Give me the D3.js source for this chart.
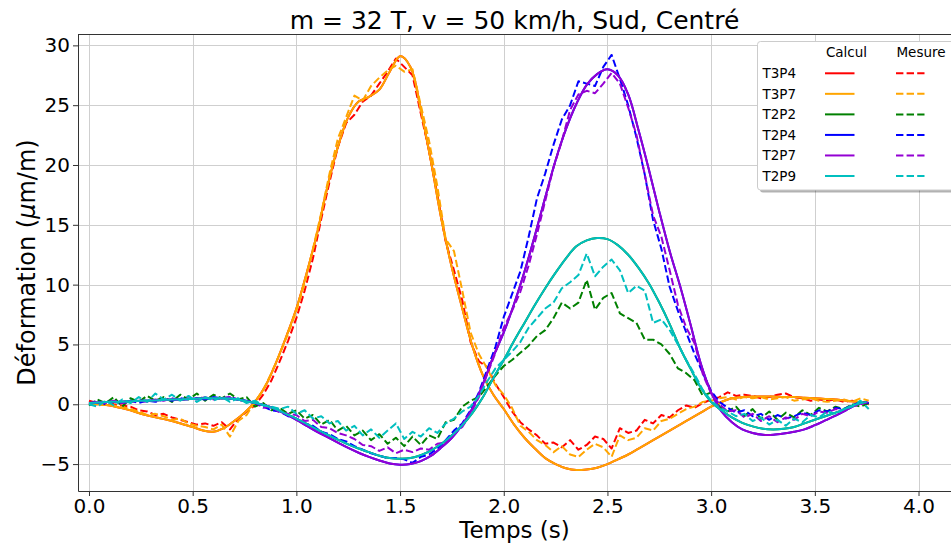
<!DOCTYPE html>
<html>
<head>
<meta charset="utf-8">
<script src="https://cdn.jsdelivr.net/npm/d3@7"></script>
<style>
  body { margin: 0; background: #fff; }
  svg { display: block; font-family: "DejaVu Sans", sans-serif; }
</style>
</head>
<body>
<div id="chart"></div>
<script>
// Jauges et couleurs (ordre de tracé = ordre de la légende)
const gauges = ["T3P4", "T3P7", "T2P2", "T2P4", "T2P7", "T2P9"];
const gaugeColors = ["#ff0000", "#ffa500", "#008000", "#0000ff", "#9400d3", "#00bfbf"];

const xTicks = [0.0, 0.5, 1.0, 1.5, 2.0, 2.5, 3.0, 3.5, 4.0];
const yTicks = [-5, 0, 5, 10, 15, 20, 25, 30];

// Temps des courbes calculées (pas 0.05 s)
const tCalc = [0.00, 0.05, 0.10, 0.15, 0.20, 0.25, 0.30, 0.35, 0.40, 0.45,
  0.50, 0.55, 0.60, 0.65, 0.70, 0.75, 0.80, 0.85, 0.90, 0.95,
  1.00, 1.05, 1.10, 1.15, 1.20, 1.25, 1.30, 1.35, 1.40, 1.45,
  1.50, 1.55, 1.60, 1.65, 1.70, 1.75, 1.80, 1.85, 1.90, 1.95,
  2.00, 2.05, 2.10, 2.15, 2.20, 2.25, 2.30, 2.35, 2.40, 2.45,
  2.50, 2.55, 2.60, 2.65, 2.70, 2.75, 2.80, 2.85, 2.90, 2.95,
  3.00, 3.05, 3.10, 3.15, 3.20, 3.25, 3.30, 3.35, 3.40, 3.45,
  3.50, 3.55, 3.60, 3.65, 3.70, 3.75];

// Temps des mesures (pas 0.04 s)
const tMes = [0.00, 0.04, 0.08, 0.12, 0.16, 0.20, 0.24, 0.28, 0.32, 0.36,
  0.40, 0.44, 0.48, 0.52, 0.56, 0.60, 0.64, 0.68, 0.72, 0.76,
  0.80, 0.84, 0.88, 0.92, 0.96, 1.00, 1.04, 1.08, 1.12, 1.16,
  1.20, 1.24, 1.28, 1.32, 1.36, 1.40, 1.44, 1.48, 1.52, 1.56,
  1.60, 1.64, 1.68, 1.72, 1.76, 1.80, 1.84, 1.88, 1.92, 1.96,
  2.00, 2.04, 2.08, 2.12, 2.16, 2.20, 2.24, 2.28, 2.32, 2.36,
  2.40, 2.44, 2.48, 2.52, 2.56, 2.60, 2.64, 2.68, 2.72, 2.76,
  2.80, 2.84, 2.88, 2.92, 2.96, 3.00, 3.04, 3.08, 3.12, 3.16,
  3.20, 3.24, 3.28, 3.32, 3.36, 3.40, 3.44, 3.48, 3.52, 3.56,
  3.60, 3.64, 3.68, 3.72, 3.76];

// Calcul
const calcT3P7 = [0.0, 0.0, -0.1, -0.3, -0.5, -0.8, -1.0, -1.2, -1.4, -1.65,
  -1.9, -2.2, -2.3, -2.0, -1.4, -0.7, 0.2, 1.5, 3.4, 5.6,
  8.0, 11.0, 14.3, 18.2, 21.5, 24.0, 25.3, 25.7, 26.3, 27.8,
  29.1, 28.2, 24.6, 20.2, 15.4, 11.4, 8.0, 4.8, 2.4, 0.8,
  -0.4, -1.7, -2.8, -3.7, -4.5, -5.0, -5.35, -5.5, -5.45, -5.3,
  -5.0, -4.6, -4.2, -3.7, -3.2, -2.7, -2.2, -1.7, -1.2, -0.7,
  -0.2, 0.2, 0.5, 0.6, 0.65, 0.65, 0.65, 0.6, 0.6, 0.55,
  0.5, 0.45, 0.4, 0.3, 0.2, 0.1];
const calcT3P4 = calcT3P7; // confondue avec T3P7

const calcT2P7 = [0.1, 0.15, 0.2, 0.2, 0.25, 0.3, 0.3, 0.35, 0.4, 0.4,
  0.45, 0.5, 0.5, 0.5, 0.45, 0.3, 0.1, -0.1, -0.4, -0.85,
  -1.3, -1.8, -2.3, -2.75, -3.2, -3.65, -4.05, -4.4, -4.7, -4.95,
  -5.05, -5.0, -4.75, -4.3, -3.6, -2.8, -1.7, -0.3, 1.7, 4.0,
  6.0, 8.4, 11.1, 14.1, 17.3, 20.4, 23.0, 25.1, 26.7, 27.6,
  28.0, 27.5, 25.9, 22.9, 19.6, 16.1, 12.8, 9.9, 6.7, 3.4,
  1.0, -0.6, -1.5, -2.1, -2.4, -2.55, -2.55, -2.45, -2.3, -2.1,
  -1.75, -1.35, -0.95, -0.5, -0.05, 0.2];
const calcT2P4 = calcT2P7; // confondue avec T2P7

const calcT2P9 = [0.1, 0.15, 0.2, 0.2, 0.25, 0.3, 0.3, 0.35, 0.4, 0.4,
  0.45, 0.5, 0.5, 0.5, 0.45, 0.3, 0.1, -0.1, -0.4, -0.8,
  -1.2, -1.65, -2.1, -2.55, -2.95, -3.35, -3.7, -4.0, -4.3, -4.5,
  -4.55, -4.5, -4.25, -3.85, -3.3, -2.6, -1.75, -0.7, 0.6, 2.2,
  3.7, 5.3, 6.8, 8.3, 9.7, 11.0, 12.2, 13.2, 13.7, 13.9,
  13.8, 13.3, 12.5, 11.4, 10.1, 8.5, 6.7, 4.7, 3.0, 1.4,
  0.2, -0.5, -1.1, -1.55, -1.85, -2.05, -2.1, -2.05, -1.9, -1.6,
  -1.3, -1.0, -0.7, -0.35, 0.0, 0.2];
const calcT2P2 = calcT2P9; // confondue avec T2P9

// Mesure
const mesT3P4 = [0.3, 0.1, 0.2, 0.0, -0.1, -0.2, -0.5, -0.6, -0.9, -0.8,
  -1.1, -1.3, -1.5, -1.7, -1.6, -1.8, -1.5, -2.1, -1.2, -0.6,
  -0.1, 0.8, 2.0, 3.6, 5.3, 7.2, 9.5, 12.2, 15.5, 18.6,
  21.5, 23.5, 24.2, 25.3, 25.8, 26.8, 27.8, 28.9, 28.2, 27.5,
  24.3, 21.2, 17.5, 13.6, 11.2, 8.7, 5.2, 3.6, 3.1, 1.7,
  0.6, -0.6, -1.5, -2.1, -2.6, -3.3, -3.2, -3.6, -3.0, -3.8,
  -3.4, -2.7, -2.9, -3.7, -2.0, -2.4, -2.2, -1.3, -1.6, -0.9,
  -1.1, -0.5, -0.1, -0.3, 0.1, 0.4, 0.6, 1.0, 0.7, 0.8,
  0.7, 0.5, 0.6, 0.8, 0.9, 0.6, 0.5, 0.3, 0.4, 0.3,
  0.4, 0.2, 0.3, 0.1, 0.0];

const mesT3P7 = [0.1, -0.1, 0.0, -0.1, -0.2, -0.4, -0.6, -0.9, -0.8, -1.0,
  -1.3, -1.2, -1.6, -1.8, -1.9, -2.1, -1.7, -2.7, -1.4, -0.9,
  0.2, 1.2, 2.6, 4.2, 5.9, 7.8, 10.1, 13.0, 16.0, 19.3,
  22.2, 24.0, 25.8, 25.4, 26.6, 27.3, 27.9, 28.3, 27.8, 28.0,
  25.0, 22.0, 18.2, 13.8, 12.8, 9.5, 6.0, 4.2, 3.0, 1.6,
  0.8, -0.3, -1.8, -2.3, -3.0, -3.4, -4.0, -3.5, -4.2, -4.4,
  -3.8, -3.3, -3.6, -4.4, -2.6, -3.0, -2.8, -2.0, -2.2, -1.4,
  -1.2, -0.8, -0.4, -0.2, 0.2, 0.3, 0.5, 0.6, 0.4, 0.6,
  0.5, 0.6, 0.4, 0.5, 0.6, 0.3, 0.4, 0.5, 0.3, 0.2,
  0.3, 0.4, 0.2, 0.5, 0.3];

const mesT2P2 = [-0.1, 0.4, 0.1, 0.6, -0.2, 0.5, 0.2, 0.7, 0.3, 0.6,
  0.2, 0.8, 0.4, 0.9, 0.3, 0.8, 0.5, 0.9, 0.4, 0.6,
  -0.2, 0.1, -0.5, -0.3, -0.8, -0.5, -1.2, -0.9, -1.7, -1.3,
  -2.2, -1.8, -2.6, -2.2, -3.0, -2.5, -3.3, -2.8, -3.5, -2.7,
  -3.4, -2.6, -2.9, -1.5, -1.3, -0.2, 0.3, 0.6, 1.5, 2.4,
  3.2, 3.7, 4.3, 4.9, 5.7, 6.2, 7.2, 8.5, 8.0, 8.5,
  10.4, 7.9, 8.9, 9.3, 7.6, 7.2, 6.8, 5.4, 5.4, 5.0,
  4.2, 3.0, 2.6, 2.0, 0.7, 1.0, -0.2, -0.6, -0.2, -1.0,
  -0.4, -1.2, -0.6, -1.3, -0.7, -1.1, -0.5, -0.9, -0.3, -0.6,
  -0.2, -0.4, 0.0, -0.2, 0.1];

const mesT2P4 = [0.0, 0.3, 0.0, 0.2, 0.1, 0.3, 0.1, 0.3, 0.2, 0.4,
  0.3, 0.5, 0.4, 0.5, 0.4, 0.6, 0.5, 0.6, 0.4, 0.3,
  0.1, -0.2, -0.5, -0.6, -1.0, -1.2, -1.6, -1.8, -2.3, -2.5,
  -2.9, -3.1, -3.5, -3.8, -4.1, -4.3, -4.5, -4.5, -4.6, -4.9,
  -4.4, -4.2, -3.7, -3.0, -2.2, -1.6, -0.5, 1.0, 2.9, 4.8,
  7.3, 9.2, 11.1, 14.0, 17.2, 19.3, 21.7, 23.8, 25.0, 27.0,
  26.8, 26.6, 28.2, 29.2, 27.2, 25.0, 22.3, 19.2, 15.4, 13.0,
  9.8, 7.8, 6.0, 4.2, 2.6, 1.1, 0.2, -0.3, -0.7, -0.5,
  -1.0, -0.8, -1.3, -0.9, -1.2, -1.0, -0.7, -0.9, -0.5, -0.6,
  -0.3, -0.4, -0.1, 0.2, 0.1];

const mesT2P7 = [0.1, 0.2, 0.1, 0.3, 0.1, 0.2, 0.3, 0.2, 0.4, 0.3,
  0.5, 0.3, 0.5, 0.4, 0.6, 0.4, 0.5, 0.6, 0.4, 0.2,
  0.2, -0.3, -0.2, -0.7, -0.8, -0.9, -1.4, -1.3, -1.9, -2.0,
  -2.4, -2.6, -2.9, -3.4, -3.5, -3.9, -3.6, -4.1, -3.8, -4.0,
  -3.7, -3.8, -3.3, -3.2, -2.4, -1.9, -0.8, 0.6, 2.5, 4.3,
  6.4, 7.8, 9.4, 11.6, 14.2, 17.0, 19.8, 22.0, 24.6, 25.9,
  26.2, 26.0, 26.8, 27.7, 26.8, 24.8, 22.5, 19.2, 15.8, 14.0,
  11.2, 8.3, 6.4, 5.1, 2.5, 0.9, 0.0, -0.6, -0.5, -1.1,
  -0.8, -1.4, -1.0, -1.5, -1.1, -1.3, -0.8, -1.0, -0.6, -0.7,
  -0.4, -0.5, -0.2, 0.0, 0.2];

const mesT2P9 = [0.0, -0.2, 0.3, -0.1, 0.4, 0.1, 0.6, 0.2, 0.9, 0.4,
  0.8, 0.3, 0.7, 0.2, 0.6, 0.3, 0.6, 0.2, 0.5, 0.1,
  0.3, -0.1, -0.2, -0.4, -0.2, -0.8, -0.5, -1.2, -1.0, -1.6,
  -1.4, -2.2, -1.8, -2.6, -2.1, -2.8, -2.2, -1.6, -2.9, -2.3,
  -2.7, -2.0, -2.4, -1.6, -1.2, -0.6, -0.2, 0.7, 1.9, 3.0,
  3.7, 4.4, 5.2, 6.4, 7.2, 8.0, 8.5, 9.7, 10.2, 10.8,
  12.6, 10.7, 11.5, 12.1, 11.2, 9.3, 9.9, 9.5, 6.8, 7.1,
  6.2, 5.0, 3.7, 2.5, 1.2, 0.3, -0.3, -0.6, -1.0, -0.8,
  -1.4, -1.1, -1.7, -1.3, -1.8, -1.2, -1.5, -0.9, -1.1, -0.6,
  -0.8, -0.4, -0.2, 0.3, -0.4];

const calcSeries = [calcT3P4, calcT3P7, calcT2P2, calcT2P4, calcT2P7, calcT2P9];
const mesSeries = [mesT3P4, mesT3P7, mesT2P2, mesT2P4, mesT2P7, mesT2P9];

document.addEventListener("DOMContentLoaded", function () {
    const width = 951, height = 547;
    // zone du tracé (le bord droit sort de l'image, comme sur l'original)
    const plot = { left: 78, top: 34, right: 960, bottom: 491 };

    const svg = d3.select("#chart")
        .append("svg")
        .attr("width", width)
        .attr("height", height);

    const x = d3.scaleLinear().domain([-0.053, 4.2]).range([plot.left, plot.right]);
    const y = d3.scaleLinear().domain([-7.25, 30.95]).range([plot.bottom, plot.top]);

    svg.append("defs").append("clipPath").attr("id", "clip")
        .append("rect")
        .attr("x", plot.left).attr("y", plot.top)
        .attr("width", plot.right - plot.left).attr("height", plot.bottom - plot.top);

    // grille
    const grid = svg.append("g").attr("stroke", "#cfcfcf").attr("stroke-width", 1);
    grid.selectAll(".gx").data(xTicks).enter().append("line")
        .attr("x1", d => Math.round(x(d)) + 0.5).attr("x2", d => Math.round(x(d)) + 0.5)
        .attr("y1", plot.top).attr("y2", plot.bottom);
    grid.selectAll(".gy").data(yTicks).enter().append("line")
        .attr("y1", d => Math.round(y(d)) + 0.5).attr("y2", d => Math.round(y(d)) + 0.5)
        .attr("x1", plot.left).attr("x2", plot.right);

    // courbes
    const lineCalc = d3.line()
        .x((d, i) => x(tCalc[i]))
        .y(d => y(d))
        .curve(d3.curveCatmullRom.alpha(0.5));
    const lineMes = d3.line()
        .x((d, i) => x(tMes[i]))
        .y(d => y(d));

    const curves = svg.append("g").attr("clip-path", "url(#clip)")
        .attr("fill", "none").attr("stroke-width", 2).attr("stroke-linejoin", "round");

    gauges.forEach((g, i) => {
        curves.append("path")
            .attr("d", lineCalc(calcSeries[i]))
            .attr("stroke", gaugeColors[i]);
        curves.append("path")
            .attr("d", lineMes(mesSeries[i]))
            .attr("stroke", gaugeColors[i])
            .attr("stroke-dasharray", "7.4,3.2");
    });

    // axes
    const minus = d => d < 0 ? "\u2212" + Math.abs(d) : String(d);

    const xAxis = svg.append("g")
        .attr("transform", `translate(0,${plot.bottom})`)
        .call(d3.axisBottom(x).tickValues(xTicks).tickFormat(d3.format(".1f"))
            .tickSize(5).tickSizeOuter(0).tickPadding(2.5));
    const yAxis = svg.append("g")
        .attr("transform", `translate(${plot.left},0)`)
        .call(d3.axisLeft(y).tickValues(yTicks).tickFormat(minus)
            .tickSize(5).tickSizeOuter(0).tickPadding(3));

    [xAxis, yAxis].forEach(a => {
        a.selectAll("text").attr("font-size", "20px").attr("font-family", "DejaVu Sans").attr("fill", "#000");
        a.selectAll("line").attr("stroke", "#333");
        a.select(".domain").attr("stroke", "#333");
    });

    svg.append("line")
        .attr("x1", plot.left).attr("x2", plot.right)
        .attr("y1", plot.top + 0.5).attr("y2", plot.top + 0.5)
        .attr("stroke", "#333");

    // titres
    svg.append("text")
        .attr("x", (plot.left + width) / 2)
        .attr("y", 29)
        .attr("text-anchor", "middle")
        .attr("font-size", "25px")
        .text("m = 32 T, v = 50 km/h, Sud, Centré");

    svg.append("text")
        .attr("x", (plot.left + width) / 2)
        .attr("y", 538)
        .attr("text-anchor", "middle")
        .attr("font-size", "23px")
        .text("Temps (s)");

    const yLabel = svg.append("text")
        .attr("transform", `translate(35,${(plot.top + plot.bottom) / 2}) rotate(-90)`)
        .attr("text-anchor", "middle")
        .attr("font-size", "24px");
    yLabel.append("tspan").text("Déformation (");
    yLabel.append("tspan").attr("font-style", "italic").text("\u03bc");
    yLabel.append("tspan").text("m/m)");

    // légende
    const leg = svg.append("g").attr("font-size", "13.5px");
    leg.append("rect")
        .attr("x", 760).attr("y", 44).attr("width", 210).attr("height", 148.5)
        .attr("rx", 3).attr("fill", "#000").attr("opacity", 0.3);
    leg.append("rect")
        .attr("x", 757.5).attr("y", 41.5).attr("width", 210).attr("height", 148.5)
        .attr("rx", 3).attr("fill", "#fff").attr("stroke", "#cccccc");

    leg.append("text").attr("x", 846.5).attr("y", 57.3).attr("text-anchor", "middle").text("Calcul");
    leg.append("text").attr("x", 921).attr("y", 57.3).attr("text-anchor", "middle").text("Mesure");

    const rowY = d3.scaleLinear().domain([0, 5]).range([73.3, 176]);
    gauges.forEach((g, i) => {
        const ry = rowY(i);
        leg.append("text").attr("x", 762.5).attr("y", ry + 5).text(g);
        leg.append("line")
            .attr("x1", 825).attr("x2", 854.5).attr("y1", ry).attr("y2", ry)
            .attr("stroke", gaugeColors[i]).attr("stroke-width", 2);
        leg.append("line")
            .attr("x1", 896).attr("x2", 924.5).attr("y1", ry).attr("y2", ry)
            .attr("stroke", gaugeColors[i]).attr("stroke-width", 2)
            .attr("stroke-dasharray", "7.4,3.2");
    });
});
</script>
</body>
</html>
